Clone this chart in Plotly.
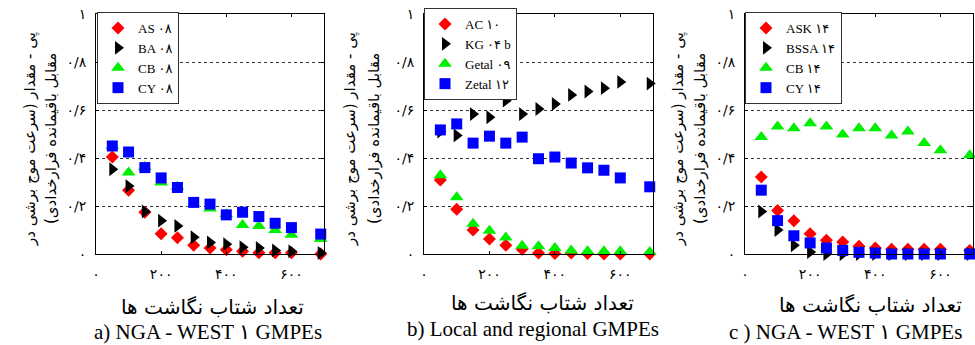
import plotly.graph_objects as go

W, H = 975, 345

# ---------------- data ----------------
x_counts = [50, 100, 150, 200, 250, 300, 350, 400, 450, 500, 550, 600, 690]

# panel a: NGA-WEST 1
a_names = ["AS ۰۸", "BA ۰۸", "CB ۰۸", "CY ۰۸"]
a_AS = [0.404, 0.266, 0.174, 0.084, 0.068, 0.036, 0.025, 0.018, 0.011, 0.005, 0.005, 0.005, 0.0]
a_BA = [0.353, 0.283, 0.177, 0.139, 0.117, 0.070, 0.048, 0.041, 0.028, 0.025, 0.015, 0.011, 0.004]
a_CB = [0.450, 0.340, 0.363, 0.298, 0.280, 0.208, 0.190, 0.166, 0.121, 0.117, 0.100, 0.080, 0.063]
a_CY = [0.450, 0.425, 0.360, 0.317, 0.277, 0.215, 0.208, 0.163, 0.174, 0.156, 0.128, 0.110, 0.083]

# panel b: local and regional
b_names = ["AC ۱۰", "KG ۰۴ b", "Getal ۰۹", "Zetal ۱۲"]
b_AC = [0.308, 0.186, 0.100, 0.062, 0.036, 0.020, 0.004, 0.002, 0.004, 0.002, 0.0, 0.0, 0.0]
b_KG = [0.510, 0.494, 0.583, 0.570, 0.639, 0.583, 0.604, 0.625, 0.663, 0.677, 0.691, 0.717, 0.710]
b_Getal = [0.328, 0.236, 0.126, 0.097, 0.069, 0.034, 0.032, 0.025, 0.015, 0.011, 0.011, 0.011, 0.008]
b_Zetal = [0.517, 0.542, 0.462, 0.491, 0.462, 0.487, 0.397, 0.404, 0.379, 0.359, 0.349, 0.317, 0.280]

# panel c: NGA-WEST 2
c_names = ["ASK ۱۴", "BSSA ۱۴", "CB ۱۴", "CY ۱۴"]
c_ASK = [0.321, 0.181, 0.139, 0.084, 0.057, 0.050, 0.032, 0.025, 0.020, 0.020, 0.020, 0.020, 0.015]
c_BSSA = [0.177, 0.100, 0.036, 0.008, 0.0, 0.0, 0.0, 0.0, 0.0, 0.0, 0.0, 0.0, 0.0]
c_CB = [0.487, 0.531, 0.524, 0.545, 0.531, 0.498, 0.524, 0.524, 0.494, 0.510, 0.463, 0.432, 0.411]
c_CY = [0.266, 0.139, 0.076, 0.046, 0.025, 0.015, 0.007, 0.004, 0.0, 0.0, 0.0, 0.0, 0.0]

x_tickvals = [0, 200, 400, 600]
x_ticktext = ["۰", "۲۰۰", "۴۰۰", "۶۰۰"]
y_tickvals = [0, 0.2, 0.4, 0.6, 0.8, 1.0]
y_ticktext = ["۰", "۰/۲", "۰/۴", "۰/۶", "۰/۸", "۱"]

x_title = "تعداد شتاب نگاشت ها"
y_title_1 = "\u200fپی - مقدار (سرعت موج برشی در\u200f"
y_title_2 = "\u200fمقابل باقیمانده فرارخدادی)\u200f"
captions = ["a) NGA - WEST ۱ GMPEs", "b) Local and regional GMPEs", "c ) NGA - WEST ۱ GMPEs"]

# ---------------- style ----------------
SERIF = "Liberation Serif, DejaVu Sans"
PFONT = "DejaVu Sans"
styles = [
    dict(symbol="diamond", color="#ff0000", size=10),
    dict(symbol="triangle-right", color="#000000", size=12),
    dict(symbol="triangle-up", color="#00ee00", size=12),
    dict(symbol="square", color="#0000ff", size=11),
]

px = lambda v: v / W
py = lambda v: 1 - v / H

domains = [(96, 324), (424, 653), (745, 973)]
ydom = [py(254), py(14)]

panels = [
    (a_names, [a_AS, a_BA, a_CB, a_CY]),
    (b_names, [b_AC, b_KG, b_Getal, b_Zetal]),
    (c_names, [c_ASK, c_BSSA, c_CB, c_CY]),
]
legend_pos = [(97, 12), (424, 8), (745, 12)]

fig = go.Figure()
layout = dict(
    template="none",
    width=W, height=H,
    margin=dict(l=0, r=0, t=0, b=0, pad=0, autoexpand=False),
    paper_bgcolor="white", plot_bgcolor="white",
    showlegend=True,
)

for i, (names, series) in enumerate(panels):
    sfx = "" if i == 0 else str(i + 1)
    lg = "legend" + sfx
    for name, vals, st in zip(names, series, styles):
        fig.add_trace(go.Scatter(
            x=x_counts, y=vals, mode="markers", name=name,
            marker=dict(symbol=st["symbol"], color=st["color"], size=st["size"],
                        line=dict(width=0)),
            xaxis="x" + sfx, yaxis="y" + sfx, legend=lg, cliponaxis=False,
        ))
    layout["xaxis" + sfx] = dict(
        domain=[px(domains[i][0]), px(domains[i][1])], anchor="y" + sfx,
        range=[0, 700], tickvals=x_tickvals, ticktext=x_ticktext,
        showline=True, linecolor="black", linewidth=1, mirror="ticks",
        ticks="inside", ticklen=3, tickcolor="black",
        showgrid=False, zeroline=False, automargin=False,
        tickfont=dict(family=PFONT, size=14, color="black"),
        ticklabelstandoff=7,
    )
    layout["yaxis" + sfx] = dict(
        domain=ydom, anchor="x" + sfx,
        range=[0, 1], tickvals=y_tickvals, ticktext=y_ticktext,
        showline=True, linecolor="black", linewidth=1, mirror="ticks",
        ticks="inside", ticklen=3, tickcolor="black",
        showgrid=True, gridcolor="#333333", gridwidth=1, griddash="3px,3px",
        zeroline=False, automargin=False,
        tickfont=dict(family=PFONT, size=14, color="black"),
        ticklabelstandoff=6,
    )
    lx, ly = legend_pos[i]
    layout[lg] = dict(
        x=px(lx), y=py(ly), xanchor="left", yanchor="top",
        xref="paper", yref="paper",
        bgcolor="white", bordercolor="#333333", borderwidth=1,
        font=dict(family=SERIF, size=13, color="black"),
        tracegroupgap=0,
    )

annotations = []
ytitle_x = [(30, 51), (350, 374), (678, 700)]
xtitle_pos = [(212, 307), (542, 303), (870, 305)]
cap_pos = [(208, 332), (533, 329), (845, 332)]
for i in range(3):
    for xx, txt in zip(ytitle_x[i], [y_title_1, y_title_2]):
        annotations.append(dict(
            x=px(xx), y=py(139), xref="paper", yref="paper",
            text=txt, showarrow=False, textangle=-90,
            xanchor="center", yanchor="middle",
            font=dict(family=PFONT, size=15, color="black"),
        ))
    annotations.append(dict(
        x=px(xtitle_pos[i][0]), y=py(xtitle_pos[i][1]), xref="paper", yref="paper",
        text=x_title, showarrow=False, xanchor="center", yanchor="middle",
        font=dict(family=PFONT, size=20, color="black"),
    ))
    annotations.append(dict(
        x=px(cap_pos[i][0]), y=py(cap_pos[i][1]), xref="paper", yref="paper",
        text=captions[i], showarrow=False, xanchor="center", yanchor="middle",
        font=dict(family=SERIF, size=21, color="black"),
    ))
layout["annotations"] = annotations

fig.update_layout(**layout)
fig.write_html(
    "out.html",
    config={"displayModeBar": False},
    post_script=(
        "document.documentElement.style.margin='0';"
        "document.documentElement.style.overflow='hidden';"
        "document.body.style.margin='0';"
        "document.body.style.overflow='hidden';"
        "document.body.style.height='345px';"
    ),
)
